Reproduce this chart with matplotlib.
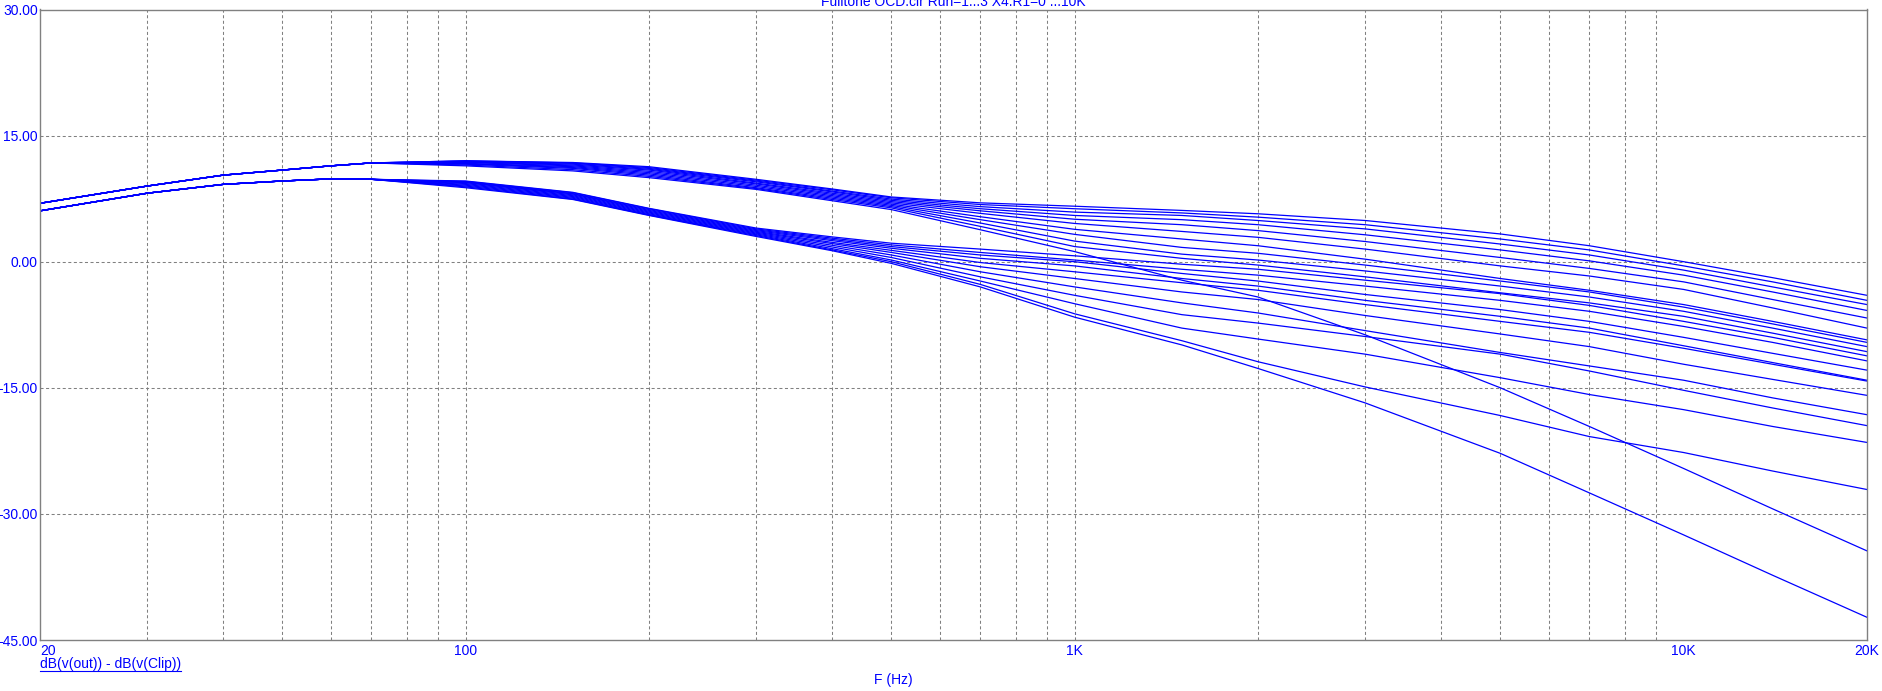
import matplotlib
matplotlib.use("Agg")
import matplotlib.pyplot as plt
from matplotlib.lines import Line2D

# ── Data ───────────────────────────────────────────────────────────────────────
TITLE = "Fulltone OCD.cir Run=1...3 X4.R1=0 ...10K"
TRACE = "dB(v(out)) - dB(v(Clip))"

# low end: each bundle is one fat line, curves sit on top of each other
freq_lo  = [20, 30, 40, 50, 60, 70]
upper_lo = [6.95, 9.0, 10.3, 10.9, 11.4, 11.75]
lower_lo = [6.05, 8.15, 9.2, 9.6, 9.85, 9.8]

freq_hi = [100, 150, 200, 300, 400, 500, 700, 1000, 1500, 2000, 3000,
           5000, 7000, 10000, 14000, 20000]

upper_curves = [
    [12.0, 11.8, 11.3, 9.8, 8.65, 7.7, 7.0, 6.6, 6.1, 5.7, 4.9, 3.3, 1.9, 0.0, -1.9, -4.0],
    [12.0, 11.75, 11.2, 9.7, 8.55, 7.6, 6.8, 6.3, 5.8, 5.3, 4.4, 2.7, 1.4, -0.5, -2.4, -4.6],
    [11.95, 11.7, 11.1, 9.6, 8.4, 7.45, 6.55, 5.9, 5.5, 4.9, 3.9, 2.1, 0.8, -1.0, -3.0, -5.1],
    [11.9, 11.6, 11.0, 9.5, 8.3, 7.3, 6.3, 5.5, 5.0, 4.4, 3.2, 1.4, 0.1, -1.6, -3.6, -5.8],
    [11.85, 11.5, 10.9, 9.35, 8.15, 7.15, 6.05, 5.05, 4.4, 3.7, 2.4, 0.5, -0.8, -2.4, -4.5, -6.7],
    [11.8, 11.4, 10.75, 9.25, 8.0, 7.0, 5.75, 4.55, 3.6, 2.9, 1.5, -0.5, -1.7, -3.3, -5.5, -7.9],
    [11.7, 11.3, 10.6, 9.1, 7.85, 6.85, 5.35, 3.85, 2.7, 1.9, 0.3, -2.0, -3.4, -5.1, -7.1, -9.3],
    [11.65, 11.2, 10.45, 8.95, 7.7, 6.7, 5.0, 3.25, 1.7, 1.0, -0.4, -2.3, -3.6, -5.4, -7.4, -9.6],
    [11.6, 11.1, 10.3, 8.8, 7.55, 6.55, 4.6, 2.45, 0.9, 0.2, -1.1, -2.9, -4.2, -5.9, -7.9, -10.1],
    [11.5, 10.95, 10.15, 8.7, 7.4, 6.4, 4.2, 1.8, 0.4, -0.4, -1.8, -3.7, -4.9, -6.5, -8.5, -10.7],
    [11.4, 10.8, 10.0, 8.6, 7.25, 6.2, 3.8, 1.2, -2.2, -4.2, -8.7, -15.0, -19.6, -24.6, -29.4, -34.4],
]

lower_curves = [
    [9.6, 8.25, 6.35, 4.0, 2.95, 2.2, 1.5, 0.7, -0.3, -0.9, -2.2, -3.8, -5.2, -7.1, -9.0, -11.2],
    [9.55, 8.2, 6.3, 3.9, 2.8, 2.0, 1.1, 0.2, -0.9, -1.6, -2.9, -4.6, -5.9, -7.7, -9.6, -11.8],
    [9.5, 8.1, 6.2, 3.8, 2.65, 1.8, 0.8, 0.0, -1.4, -2.3, -3.9, -5.7, -7.1, -9.0, -10.9, -12.9],
    [9.45, 8.05, 6.1, 3.7, 2.5, 1.6, 0.4, -0.5, -2.0, -2.9, -4.6, -6.5, -7.9, -10.0, -12.0, -14.1],
    [9.4, 7.95, 6.0, 3.6, 2.3, 1.35, -0.1, -1.2, -2.5, -3.4, -5.1, -7.1, -8.4, -10.3, -12.2, -14.2],
    [9.3, 7.85, 5.9, 3.5, 2.15, 1.1, -0.6, -2.0, -3.6, -4.5, -6.4, -8.6, -10.1, -12.2, -14.0, -15.9],
    [9.2, 7.75, 5.8, 3.4, 1.95, 0.8, -1.2, -3.0, -4.9, -6.1, -8.2, -10.8, -12.4, -14.1, -16.2, -18.2],
    [9.1, 7.65, 5.7, 3.3, 1.75, 0.5, -1.8, -4.0, -6.3, -7.3, -8.9, -11.0, -13.0, -15.3, -17.4, -19.5],
    [9.0, 7.55, 5.6, 3.2, 1.55, 0.2, -2.3, -5.0, -7.9, -9.2, -11.0, -13.8, -15.8, -17.6, -19.6, -21.5],
    [8.9, 7.45, 5.55, 3.1, 1.4, 0.0, -2.7, -6.2, -9.4, -11.9, -14.9, -18.3, -20.8, -22.7, -24.9, -27.1],
    [8.8, 7.4, 5.5, 3.0, 1.3, -0.2, -3.0, -6.6, -9.9, -12.7, -16.8, -22.8, -27.5, -32.5, -37.3, -42.3],
]

x_ticks  = [20, 100, 1000, 10000, 20000]
x_labels = ["20", "100", "1K", "10K", "20K"]
y_ticks  = [30, 15, 0, -15, -30, -45]
y_labels = ["30.00", "15.00", "0.00", "-15.00", "-30.00", "-45.00"]

# ── Style ──────────────────────────────────────────────────────────────────────
BLUE = "#0000FF"
GRAY = "#808080"
FS   = 10
plt.rcParams["font.family"] = ["Liberation Sans", "DejaVu Sans"]
plt.rcParams["lines.scale_dashes"] = False

W, H = 1882, 691
fig = plt.figure(figsize=(W / 100, H / 100), dpi=100)
fig.patch.set_facecolor("white")

# plot box in pixels: left 40, right 1867, top 9.5, bottom 640
ax = fig.add_axes([40 / W, (H - 640) / H, 1827 / W, 630.5 / H])
ax.set_xscale("log")
ax.set_xlim(20, 20000)
ax.set_ylim(-45, 30)

for vals in upper_curves:
    ax.plot(freq_lo + freq_hi, upper_lo + vals, color=BLUE, lw=0.9)
for vals in lower_curves:
    ax.plot(freq_lo + freq_hi, lower_lo + vals, color=BLUE, lw=0.9)

# grid: every 1..9 step per decade, plus the dB ticks
grid_f = [m * 10 ** d for d in range(1, 4) for m in range(1, 10) if 20 < m * 10 ** d < 20000]
for f in grid_f:
    ax.axvline(f, color=GRAY, lw=0.75, dashes=(2.2, 1.8), zorder=0)
for y in y_ticks[1:-1]:
    ax.axhline(y, color=GRAY, lw=0.75, dashes=(2.2, 1.8), zorder=0)

ax.set_xticks(x_ticks)
ax.set_xticklabels(x_labels)
ax.xaxis.set_minor_locator(matplotlib.ticker.NullLocator())
ax.set_yticks(y_ticks)
ax.set_yticklabels(y_labels)
ax.tick_params(length=0, labelsize=FS, labelcolor=BLUE)
ax.tick_params(axis="x", pad=3)
ax.tick_params(axis="y", pad=1.5)
ax.get_xticklabels()[0].set_ha("left")

for s in ax.spines.values():
    s.set_color(GRAY)
    s.set_linewidth(1.0)

# ── Texts ──────────────────────────────────────────────────────────────────────
fig.text(953 / W, 1 - 6 / H, TITLE, ha="center", va="baseline", color=BLUE, fontsize=FS)
fig.text(893 / W, 7 / H, "F (Hz)", ha="center", va="baseline", color=BLUE, fontsize=FS)
lab = fig.text(40 / W, 23 / H, TRACE, ha="left", va="baseline", color=BLUE, fontsize=FS)

# underline the trace name like the simulator does
fig.canvas.draw()
bb = lab.get_window_extent()
fig.add_artist(Line2D([bb.x0 / W, bb.x1 / W], [20 / H, 20 / H], color=BLUE, lw=0.8))

fig.savefig("out.png", dpi=100)
